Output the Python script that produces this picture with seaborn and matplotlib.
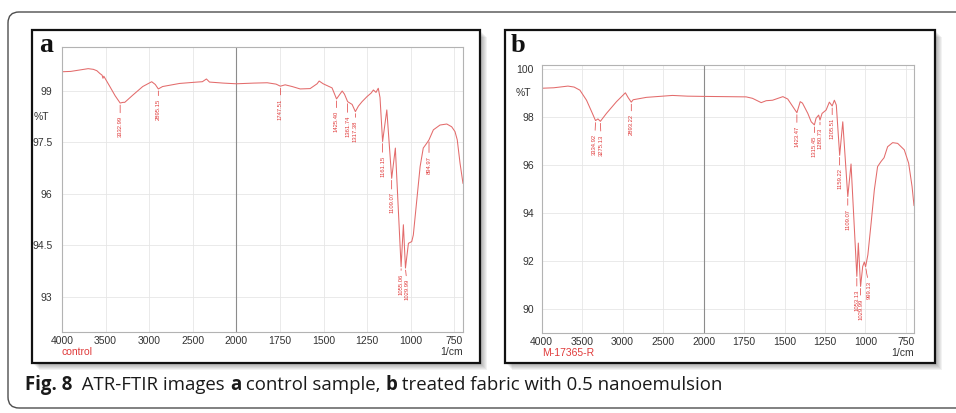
import numpy as np
import pandas as pd
import matplotlib
matplotlib.use("Agg")
import matplotlib.pyplot as plt
import seaborn as sns
from matplotlib.patches import Rectangle, FancyBboxPatch
from matplotlib.transforms import IdentityTransform

# --- datos: espectro a (control) ---
wn_a = [4000, 3900, 3800, 3700, 3640, 3600, 3566, 3540, 3530, 3520, 3451, 3390,
        3332.99, 3300, 3280, 3188, 3074, 2971, 2930, 2895.15, 2846, 2651, 2450,
        2390, 2343, 2308, 2150, 2000, 1900, 1823, 1772, 1747.51, 1720, 1680, 1634,
        1577, 1537, 1525, 1502, 1451, 1425.40, 1393, 1380, 1361.74, 1336, 1317.38,
        1300, 1279, 1250, 1227, 1214, 1199, 1186, 1176, 1161.15, 1137, 1109.07,
        1088, 1055.06, 1042, 1029.99, 1013, 994, 985, 965, 946, 928, 908, 894.97,
        870, 832, 793, 765, 746, 733, 717, 700]
t_a = [99.55, 99.56, 99.60, 99.64, 99.62, 99.58, 99.50, 99.45, 99.36, 99.42, 99.12, 98.85,
       98.64, 98.66, 98.66, 98.87, 99.12, 99.26, 99.18, 99.05, 99.12, 99.21, 99.25,
       99.26, 99.34, 99.25, 99.22, 99.20, 99.22, 99.23, 99.19, 99.13, 99.17, 99.12, 99.05,
       99.06, 99.20, 99.28, 99.20, 99.08, 98.76, 98.99, 98.90, 98.68, 98.60, 98.39,
       98.55, 98.68, 98.83, 98.93, 99.02, 98.95, 99.07, 98.80, 97.52, 98.44, 96.45,
       97.33, 93.88, 95.10, 93.84, 94.56, 94.61, 94.80, 95.82, 96.79, 97.33, 97.47, 97.57,
       97.86, 98.00, 98.03, 97.95, 97.81, 97.57, 96.89, 96.30]
picos_a = [3332.99, 2895.15, 1747.51, 1425.40, 1361.74, 1317.38, 1161.15, 1109.07,
           1055.06, 1029.99, 894.97]
picos_t_a = [98.64, 99.05, 99.13, 98.76, 98.68, 98.39, 97.52, 96.45, 93.88, 93.84, 97.57]

# --- datos: espectro b (tratado) ---
wn_b = [4000, 3850, 3676, 3600, 3528, 3446, 3380, 3334.92, 3305, 3275.13, 3200, 3076,
        2966, 2930, 2893.22, 2870, 2706, 2505, 2385, 2200, 2000, 1737, 1698, 1644,
        1613, 1574, 1510, 1480, 1423.47, 1403, 1389, 1356, 1335, 1315.45, 1305, 1289,
        1280.73, 1268, 1243, 1223, 1205.51, 1192, 1180, 1159.22, 1140, 1109.07, 1089,
        1053.13, 1044, 1029.99, 1017, 1007, 999.13, 985, 965, 945, 925, 904, 885, 863,
        832, 801, 760, 733, 712, 700]
t_b = [99.20, 99.22, 99.29, 99.25, 99.12, 98.70, 98.20, 97.85, 97.92, 97.82, 98.15, 98.64,
       99.01, 98.80, 98.62, 98.72, 98.82, 98.87, 98.90, 98.87, 98.86, 98.84, 98.78, 98.60,
       98.68, 98.70, 98.85, 98.75, 98.18, 98.64, 98.58, 98.15, 97.80, 97.67, 97.95, 98.08,
       97.87, 98.15, 98.29, 98.62, 98.46, 98.70, 98.50, 96.40, 97.80, 94.68, 96.04,
       91.35, 92.74, 90.93, 91.76, 91.95, 91.75, 92.25, 93.57, 94.96, 95.93, 96.14, 96.30, 96.76,
       96.93, 96.90, 96.63, 96.07, 95.10, 94.30]
picos_b = [3334.92, 3275.13, 2893.22, 1423.47, 1315.45, 1280.73, 1205.51, 1159.22,
           1109.07, 1053.13, 1029.99, 999.13]
picos_t_b = [97.85, 97.82, 98.62, 98.18, 97.67, 97.87, 98.46, 96.40, 94.68, 91.35,
             90.93, 91.75]

ticks_x = [4000, 3500, 3000, 2500, 2000, 1750, 1500, 1250, 1000, 750]
ticks_y_a = [93, 94.5, 96, 97.5, 99]
ticks_y_b = [90, 92, 94, 96, 98, 100]

# --- estilo ---
sns.set_style("white")
plt.rcParams["font.family"] = ["Liberation Sans", "DejaVu Sans"]
ROJO_LINEA = "#e36b6b"
ROJO_TXT = "#e03a3a"
PX = 72 / 100  # puntos por pixel


def eje_ftir(x):
    x = np.asarray(x, dtype=float)
    return np.where(x >= 2000, 1000 + (x - 2000) / 2, x - 1000)


def eje_ftir_inv(u):
    u = np.asarray(u, dtype=float)
    return np.where(u >= 1000, 2000 + 2 * (u - 1000), u + 1000)


def panel(ax, wn, t, picos, picos_t, ylim, yticks, ylabels, pos_T, muestra,
          largos, dxs, tick_len, tick_pad):
    df = pd.DataFrame({"wn": wn, "t": t})
    sns.lineplot(data=df, x="wn", y="t", sort=False, ax=ax, color=ROJO_LINEA,
                 lw=0.75, estimator=None)
    ax.set_xscale("function", functions=(eje_ftir, eje_ftir_inv))
    ax.set_xlim(4000, 700)
    ax.set_ylim(*ylim)
    ax.set_xticks(ticks_x)
    ax.set_xticklabels([str(v) for v in ticks_x])
    ax.set_yticks(yticks)
    ax.set_yticklabels(ylabels)
    ax.minorticks_off()
    ax.set_xlabel("")
    ax.set_ylabel("")
    ax.grid(True, color="#e6e6e6", lw=0.6)
    ax.axvline(2000, color="#8c8c8c", lw=0.8, zorder=1)
    for s in ax.spines.values():
        s.set_color("#b3b3b3")
        s.set_linewidth(0.8)
    ax.tick_params(axis="x", length=0, pad=3, labelsize=7.5, labelcolor="#333333")
    ax.tick_params(axis="y", length=tick_len, pad=tick_pad, labelsize=7.5,
                   labelcolor="#333333", color="#999999", width=0.6)
    ax.annotate("%T", xy=(0, pos_T), xycoords=ax.get_yaxis_transform(),
                xytext=(-(tick_len + tick_pad + 2), 0), textcoords="offset points",
                ha="right", va="center", fontsize=7.5, color="#333333")
    ax.annotate(muestra, xy=(0, 0), xycoords="axes fraction", xytext=(0, -20 * PX),
                textcoords="offset points", ha="left", va="center", fontsize=7.5,
                color=ROJO_TXT)
    ax.annotate("1/cm", xy=(1, 0), xycoords="axes fraction", xytext=(0, -20 * PX),
                textcoords="offset points", ha="right", va="center", fontsize=7.5,
                color="#333333")
    # etiquetas de picos
    for p, tp, L, dx in zip(picos, picos_t, largos, dxs):
        ax.annotate(f"{p:.2f}", xy=(p, tp), xytext=(dx * PX, -(L + 2) * PX),
                    textcoords="offset points", rotation=90, ha="center", va="top",
                    fontsize=4.2, color=ROJO_TXT,
                    arrowprops=dict(arrowstyle="-", color=ROJO_TXT, lw=0.5,
                                    shrinkA=0, shrinkB=2 * PX))


W, H = 956, 413
fig = plt.figure(figsize=(W / 100, H / 100), dpi=100)

ax_a = fig.add_axes([62 / W, 1 - 332 / H, 401 / W, 285 / H])
ax_b = fig.add_axes([541.7 / W, 1 - 332.7 / H, 372.3 / W, 267.7 / H])

panel(ax_a, wn_a, t_a, picos_a, picos_t_a, (91.98, 100.27), ticks_y_a,
      ["93", "94.5", "96", "97.5", "99"], 98.24, "control",
      [11, 8, 10, 10, 12, 7, 12, 12, 5, 9, 14], [0, 0, 0, 0, 0, 0, 0, 0, 0, 2, 0],
      0, 7)
panel(ax_b, wn_b, t_b, picos_b, picos_t_b, (89.0, 100.17), ticks_y_b,
      ["90", "92", "94", "96", "98", "100"], 99.0, "M-17365-R",
      [11, 11, 10, 11, 9, 6, 10, 11, 10, 11, 10, 12], [-1, 1, 0, 0, 0, 0, 0, 0, 0, 0, 0, 4],
      4, 1.5)

# --- marcos ---
T = IdentityTransform()
fig.patches.append(FancyBboxPatch((8, 5), 1000, 396, boxstyle="round,pad=0,rounding_size=11",
                                  transform=T, fill=False, ec="#4d4d4d", lw=1.0, zorder=6))
for x0, w in [(32, 448), (505, 430)]:
    for k in range(1, 8):
        fig.patches.append(Rectangle((x0 + k, 50 - k), w, 333, transform=T, fc="#000000",
                                     ec="none", alpha=0.05, zorder=-3))
    fig.patches.append(Rectangle((x0, 50), w, 333, transform=T, fc="white", ec="none",
                                 zorder=-2))
    fig.patches.append(Rectangle((x0, 50), w, 333, transform=T, fill=False, ec="#111111",
                                 lw=1.6, zorder=6))

fig.text(39 / W, 1 - 52 / H, "a", fontsize=20, fontweight="bold",
         family="Liberation Serif", color="#111111")
fig.text(511 / W, 1 - 52 / H, "b", fontsize=19, fontweight="bold",
         family="Liberation Serif", color="#111111")

# --- epígrafe ---
partes = [("Fig. 8", "bold"), ("  ATR-FTIR images ", "normal"), ("a", "bold"),
          (" control sample, ", "normal"), ("b", "bold"),
          (" treated fabric with 0.5 nanoemulsion", "normal")]
rend = fig.canvas.get_renderer()
x = 25
for txt, peso in partes:
    t = fig.text(x / W, 23 / H, txt, fontsize=13.4, fontweight=peso, family="Open Sans",
                 color="#1a1a1a", va="baseline", ha="left")
    x += t.get_window_extent(rend).width

fig.savefig("out.png", dpi=100)
